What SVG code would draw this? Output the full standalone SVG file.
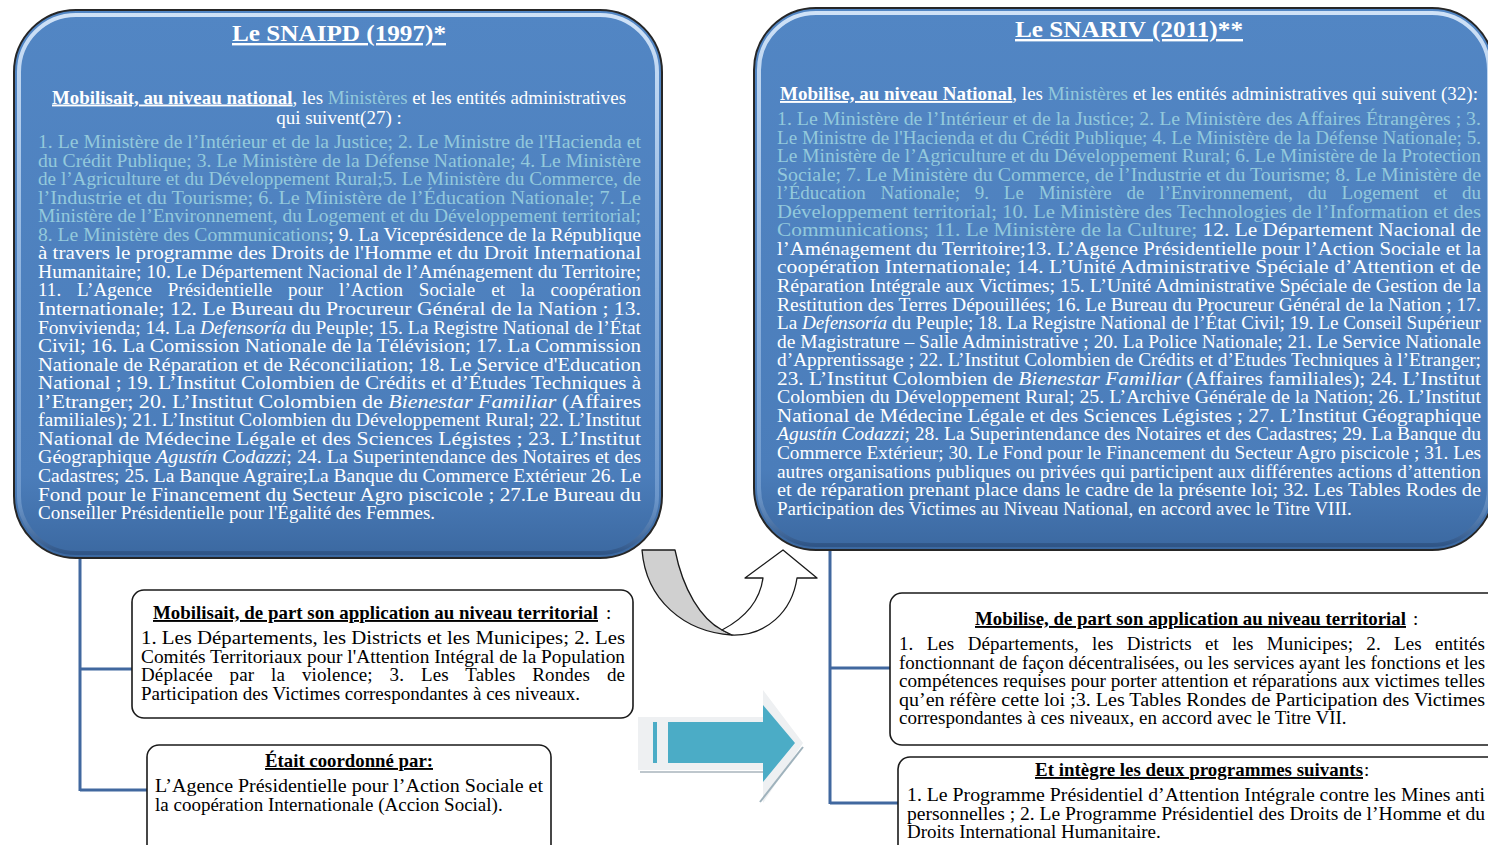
<svg xmlns="http://www.w3.org/2000/svg" width="1488" height="845" viewBox="0 0 1488 845">
<defs>
<linearGradient id="gBlue" x1="0" y1="0" x2="0" y2="1">
<stop offset="0" stop-color="#5286c4"/>
<stop offset="0.85" stop-color="#4b7dba"/>
<stop offset="1" stop-color="#3b68a0"/>
</linearGradient>
<linearGradient id="gBevel" x1="0" y1="0" x2="0" y2="1">
<stop offset="0" stop-color="#d6e7fa" stop-opacity="0.95"/>
<stop offset="0.5" stop-color="#a9c8ec" stop-opacity="0.7"/>
<stop offset="0.9" stop-color="#8fb3df" stop-opacity="0.5"/>
<stop offset="1" stop-color="#2c5080" stop-opacity="0.8"/>
</linearGradient>
<style>
.t{font-family:"Liberation Serif","Times New Roman",serif;font-size:19px}
.h{font-family:"Liberation Serif","Times New Roman",serif;font-size:24px;font-weight:bold;fill:#fff;text-decoration:underline}
.w{fill:#ffffff}
.c{fill:#93c9dc}
.k{fill:#000000}
.b{font-weight:bold}
.i{font-style:italic}
.u{text-decoration:underline}
.big{fill:url(#gBlue);stroke:#262626;stroke-width:2}
.bev{fill:none;stroke:url(#gBevel);stroke-width:4}
.sm{fill:#ffffff;stroke:#1a1a1a;stroke-width:1.6}
.con{fill:none;stroke:#41689f;stroke-width:3}
</style>
</defs>

<!-- arrows -->
<g id="curved-arrow" stroke="#1a1a1a" stroke-width="1.3" stroke-linejoin="round">
<path d="M642,550 C646,600 684,632 732,635 L722,630 C701,619 683,590 675,550 Z" fill="#d0d0d0"/>
<path d="M722,630 C745,618 760,600 763,578 L745,578 L783,550 L817,578 L797,578 C792,612 766,636 732,635 Z" fill="#ffffff"/>
</g>
<g id="right-arrow">
<path d="M638,717 L763,717 L763,690 L803,743 L763,803 L763,770 L638,770 Z" fill="#eef0f2"/>
<line x1="640" y1="772" x2="763" y2="772" stroke="#a8b4bc" stroke-width="1.5"/>
<line x1="803" y1="747" x2="760" y2="802" stroke="#9fb2bc" stroke-width="2"/>
<rect x="653" y="722" width="4" height="41" fill="#4bacc6"/>
<path d="M668,722 L763,722 L763,705 L795,743 L763,782 L763,763 L668,763 Z" fill="#4bacc6"/>
</g>

<!-- connectors -->
<g id="connectors">
<path class="con" d="M80,558 V791 M80,669 H132 M80,790 H147"/>
<path class="con" d="M830,550 V804 M830,668 H890 M830,803 H898"/>
</g>

<!-- left big node -->
<g id="snaipd">
<rect class="big" x="14" y="10" width="648" height="548" rx="62"/>
<rect class="bev" x="19" y="15" width="638" height="538" rx="57"/>
<text x="339" y="41" text-anchor="middle" class="h" textLength="214" lengthAdjust="spacingAndGlyphs">Le SNAIPD (1997)*</text>
<text x="52" y="103.5" class="t w" textLength="574" lengthAdjust="spacingAndGlyphs"><tspan class="b u">Mobilisait, au niveau national</tspan>, les <tspan class="c">Ministères</tspan> et les entités administratives</text>
<text x="339" y="123.5" text-anchor="middle" class="t w">qui suivent(27) :</text>
<g class="t w">
<text x="38" y="148" class="c" textLength="603" lengthAdjust="spacingAndGlyphs">1. Le Ministère de l’Intérieur et de la Justice; 2. Le Ministre de l'Hacienda et</text>
<text x="38" y="166.6" class="c" textLength="603" lengthAdjust="spacingAndGlyphs">du Crédit Publique; 3. Le Ministère de la Défense Nationale; 4. Le Ministère</text>
<text x="38" y="185.1" class="c" textLength="603" lengthAdjust="spacingAndGlyphs">de l’Agriculture et du Développement Rural;5. Le Ministère du Commerce, de</text>
<text x="38" y="203.7" class="c" textLength="603" lengthAdjust="spacingAndGlyphs">l’Industrie et du Tourisme; 6. Le Ministère de l’Éducation Nationale; 7. Le</text>
<text x="38" y="222.2" class="c" textLength="603" lengthAdjust="spacingAndGlyphs">Ministère de l’Environnement, du Logement et du Développement territorial;</text>
<text x="38" y="240.8" textLength="603" lengthAdjust="spacingAndGlyphs"><tspan class="c">8. Le Ministère  des Communications</tspan>; 9. La Viceprésidence de la République</text>
<text x="38" y="259.3" textLength="603" lengthAdjust="spacingAndGlyphs">à travers le programme des Droits de l'Homme et du Droit International</text>
<text x="38" y="277.9" textLength="603" lengthAdjust="spacingAndGlyphs">Humanitaire; 10. Le Département Nacional de l’Aménagement du Territoire;</text>
<text x="38" y="296.4" textLength="603" lengthAdjust="spacing" word-spacing="11">11. L’Agence Présidentielle pour l’Action Sociale et la coopération</text>
<text x="38" y="315" textLength="603" lengthAdjust="spacingAndGlyphs">Internationale; 12. Le Bureau du Procureur Général de la Nation ; 13.</text>
<text x="38" y="333.5" textLength="603" lengthAdjust="spacingAndGlyphs">Fonvivienda; 14. La <tspan class="i">Defensoría</tspan> du Peuple; 15. La Registre National de l’État</text>
<text x="38" y="352.1" textLength="603" lengthAdjust="spacingAndGlyphs">Civil; 16. La Comission Nationale de la Télévision; 17. La Commission</text>
<text x="38" y="370.6" textLength="603" lengthAdjust="spacingAndGlyphs">Nationale de Réparation et de Réconciliation; 18. Le Service d'Education</text>
<text x="38" y="389.2" textLength="603" lengthAdjust="spacingAndGlyphs">National ; 19. L’Institut Colombien de Crédits et d’Études Techniques à</text>
<text x="38" y="407.7" textLength="603" lengthAdjust="spacingAndGlyphs">l’Etranger; 20. L’Institut Colombien de <tspan class="i">Bienestar Familiar</tspan> (Affaires</text>
<text x="38" y="426.3" textLength="603" lengthAdjust="spacingAndGlyphs">familiales); 21. L’Institut Colombien du Développement Rural; 22. L’Institut</text>
<text x="38" y="444.8" textLength="603" lengthAdjust="spacingAndGlyphs">National de Médecine Légale et des Sciences Légistes ; 23. L’Institut</text>
<text x="38" y="463.4" textLength="603" lengthAdjust="spacingAndGlyphs">Géographique <tspan class="i">Agustín Codazzi</tspan>; 24. La Superintendance des Notaires et des</text>
<text x="38" y="481.9" textLength="603" lengthAdjust="spacingAndGlyphs">Cadastres; 25. La Banque Agraire;La Banque du Commerce Extérieur 26. Le</text>
<text x="38" y="500.5" textLength="603" lengthAdjust="spacingAndGlyphs">Fond pour le Financement du Secteur Agro piscicole ; 27.Le Bureau du</text>
<text x="38" y="519">Conseiller Présidentielle pour l'Égalité des Femmes.</text>
</g>
</g>

<!-- right big node -->
<g id="snariv">
<rect class="big" x="754" y="8" width="740" height="542" rx="62"/>
<rect class="bev" x="759" y="13" width="730" height="532" rx="57"/>
<text x="1129" y="37" text-anchor="middle" class="h" textLength="228" lengthAdjust="spacingAndGlyphs">Le SNARIV (2011)**</text>
<text x="780" y="100" class="t w" textLength="698" lengthAdjust="spacingAndGlyphs"><tspan class="b u">Mobilise, au niveau National</tspan>, les <tspan class="c">Ministères</tspan> et les entités administratives qui suivent (32):</text>
<g class="t w">
<text x="777" y="125" class="c" textLength="704" lengthAdjust="spacingAndGlyphs">1. Le Ministère de l’Intérieur et de la Justice; 2. Le Ministère des Affaires  Étrangères ; 3.</text>
<text x="777" y="143.6" class="c" textLength="704" lengthAdjust="spacingAndGlyphs">Le Ministre de l'Hacienda et du Crédit Publique; 4. Le Ministère de la Défense Nationale; 5.</text>
<text x="777" y="162.1" class="c" textLength="704" lengthAdjust="spacingAndGlyphs">Le Ministère de l’Agriculture et du Développement Rural; 6. Le Ministère de la Protection</text>
<text x="777" y="180.7" class="c" textLength="704" lengthAdjust="spacingAndGlyphs">Sociale; 7. Le Ministère du Commerce, de l’Industrie et du Tourisme; 8. Le Ministère de</text>
<text x="777" y="199.2" class="c" textLength="704" lengthAdjust="spacing" word-spacing="10">l’Éducation Nationale; 9. Le Ministère de l’Environnement, du Logement et du</text>
<text x="777" y="217.8" class="c" textLength="704" lengthAdjust="spacingAndGlyphs">Développement territorial; 10. Le Ministère  des Technologies de l’Information et des</text>
<text x="777" y="236.3" textLength="704" lengthAdjust="spacingAndGlyphs"><tspan class="c">Communications; 11. Le Ministère de la Culture; </tspan>12. Le Département Nacional de</text>
<text x="777" y="254.9" textLength="704" lengthAdjust="spacingAndGlyphs">l’Aménagement du Territoire;13. L’Agence Présidentielle pour l’Action Sociale et la</text>
<text x="777" y="273.4" textLength="704" lengthAdjust="spacingAndGlyphs">coopération Internationale; 14. L’Unité Administrative Spéciale d’Attention et de</text>
<text x="777" y="292" textLength="704" lengthAdjust="spacingAndGlyphs">Réparation Intégrale aux Victimes; 15. L’Unité Administrative Spéciale de Gestion de la</text>
<text x="777" y="310.5" textLength="704" lengthAdjust="spacingAndGlyphs">Restitution des Terres Dépouillées; 16. Le Bureau du Procureur Général de la Nation ; 17.</text>
<text x="777" y="329.1" textLength="704" lengthAdjust="spacingAndGlyphs">La <tspan class="i">Defensoría</tspan> du Peuple; 18. La Registre National de l’État Civil; 19. Le Conseil Supérieur</text>
<text x="777" y="347.6" textLength="704" lengthAdjust="spacingAndGlyphs">de Magistrature – Salle Administrative ; 20. La Police Nationale; 21. Le Service Nationale</text>
<text x="777" y="366.2" textLength="704" lengthAdjust="spacingAndGlyphs">d’Apprentissage ; 22. L’Institut Colombien de Crédits et d’Etudes Techniques à l’Etranger;</text>
<text x="777" y="384.7" textLength="704" lengthAdjust="spacingAndGlyphs">23. L’Institut Colombien de <tspan class="i">Bienestar Familiar</tspan> (Affaires familiales); 24. L’Institut</text>
<text x="777" y="403.3" textLength="704" lengthAdjust="spacingAndGlyphs">Colombien du Développement Rural; 25. L’Archive Générale de la Nation; 26. L’Institut</text>
<text x="777" y="421.8" textLength="704" lengthAdjust="spacingAndGlyphs">National de Médecine Légale et des Sciences Légistes ; 27. L’Institut Géographique</text>
<text x="777" y="440.4" textLength="704" lengthAdjust="spacingAndGlyphs"><tspan class="i">Agustín Codazzi</tspan>; 28. La Superintendance des Notaires et des Cadastres; 29. La Banque du</text>
<text x="777" y="458.9" textLength="704" lengthAdjust="spacingAndGlyphs">Commerce Extérieur; 30. Le Fond pour le Financement du Secteur Agro piscicole ; 31. Les</text>
<text x="777" y="477.5" textLength="704" lengthAdjust="spacingAndGlyphs">autres organisations publiques ou privées qui participent aux différentes actions d’attention</text>
<text x="777" y="496" textLength="704" lengthAdjust="spacingAndGlyphs">et de réparation prenant place dans le cadre de la présente loi; 32. Les Tables Rodes de</text>
<text x="777" y="514.6">Participation des Victimes  au Niveau National, en accord avec le Titre VIII.</text>
</g>
</g>

<!-- left territorial node -->
<g id="territorial-1997" class="t k">
<rect class="sm" x="132" y="590" width="501" height="128" rx="12"/>
<text x="153" y="619" class="b u" textLength="445" lengthAdjust="spacingAndGlyphs">Mobilisait, de part son application au niveau territorial</text>
<text x="606" y="619">:</text>
<text x="141" y="644" textLength="484" lengthAdjust="spacingAndGlyphs">1.  Les Départements, les Districts et les Municipes; 2. Les</text>
<text x="141" y="662.5" textLength="484" lengthAdjust="spacingAndGlyphs">Comités Territoriaux pour l'Attention Intégral de la Population</text>
<text x="141" y="681" textLength="484" lengthAdjust="spacing" word-spacing="12">Déplacée par la violence; 3. Les Tables Rondes de</text>
<text x="141" y="699.5">Participation des Victimes correspondantes à ces niveaux.</text>
</g>

<!-- left coordination node -->
<g id="coordination-1997" class="t k">
<rect class="sm" x="147" y="745" width="404" height="115" rx="12"/>
<text x="265" y="767" class="b u" textLength="168" lengthAdjust="spacingAndGlyphs">Était coordonné par:</text>
<text x="155" y="792" textLength="388" lengthAdjust="spacingAndGlyphs">L’Agence Présidentielle pour l’Action Sociale et</text>
<text x="155" y="811">la coopération Internationale (Accion Social).</text>
</g>

<!-- right territorial node -->
<g id="territorial-2011" class="t k">
<rect class="sm" x="890" y="593" width="620" height="152" rx="12"/>
<text x="975" y="625" class="b u" textLength="431" lengthAdjust="spacingAndGlyphs">Mobilise, de part son application au niveau territorial</text>
<text x="1413" y="625">:</text>
<text x="899" y="650" textLength="586" lengthAdjust="spacing" word-spacing="8.5">1.  Les Départements, les Districts et les Municipes; 2. Les entités</text>
<text x="899" y="668.5" textLength="586" lengthAdjust="spacingAndGlyphs">fonctionnant de façon décentralisées, ou les services ayant les fonctions et les</text>
<text x="899" y="687" textLength="586" lengthAdjust="spacingAndGlyphs">compétences requises pour porter attention et réparations aux victimes telles</text>
<text x="899" y="705.5" textLength="586" lengthAdjust="spacingAndGlyphs">qu’en réfère cette loi ;3. Les Tables Rondes de Participation des Victimes</text>
<text x="899" y="724">correspondantes à ces niveaux, en accord avec le Titre VII.</text>
</g>

<!-- right programmes node -->
<g id="programmes-2011" class="t k">
<rect class="sm" x="898" y="757" width="620" height="100" rx="12"/>
<text x="1035" y="776" class="b u" textLength="328" lengthAdjust="spacingAndGlyphs">Et intègre les deux programmes suivants</text>
<text x="1364" y="776">:</text>
<text x="907" y="801" textLength="578" lengthAdjust="spacingAndGlyphs">1. Le Programme Présidentiel d’Attention Intégrale contre les Mines anti</text>
<text x="907" y="819.5" textLength="578" lengthAdjust="spacingAndGlyphs">personnelles ; 2. Le Programme Présidentiel des Droits de l’Homme et du</text>
<text x="907" y="838">Droits International Humanitaire.</text>
</g>
</svg>
